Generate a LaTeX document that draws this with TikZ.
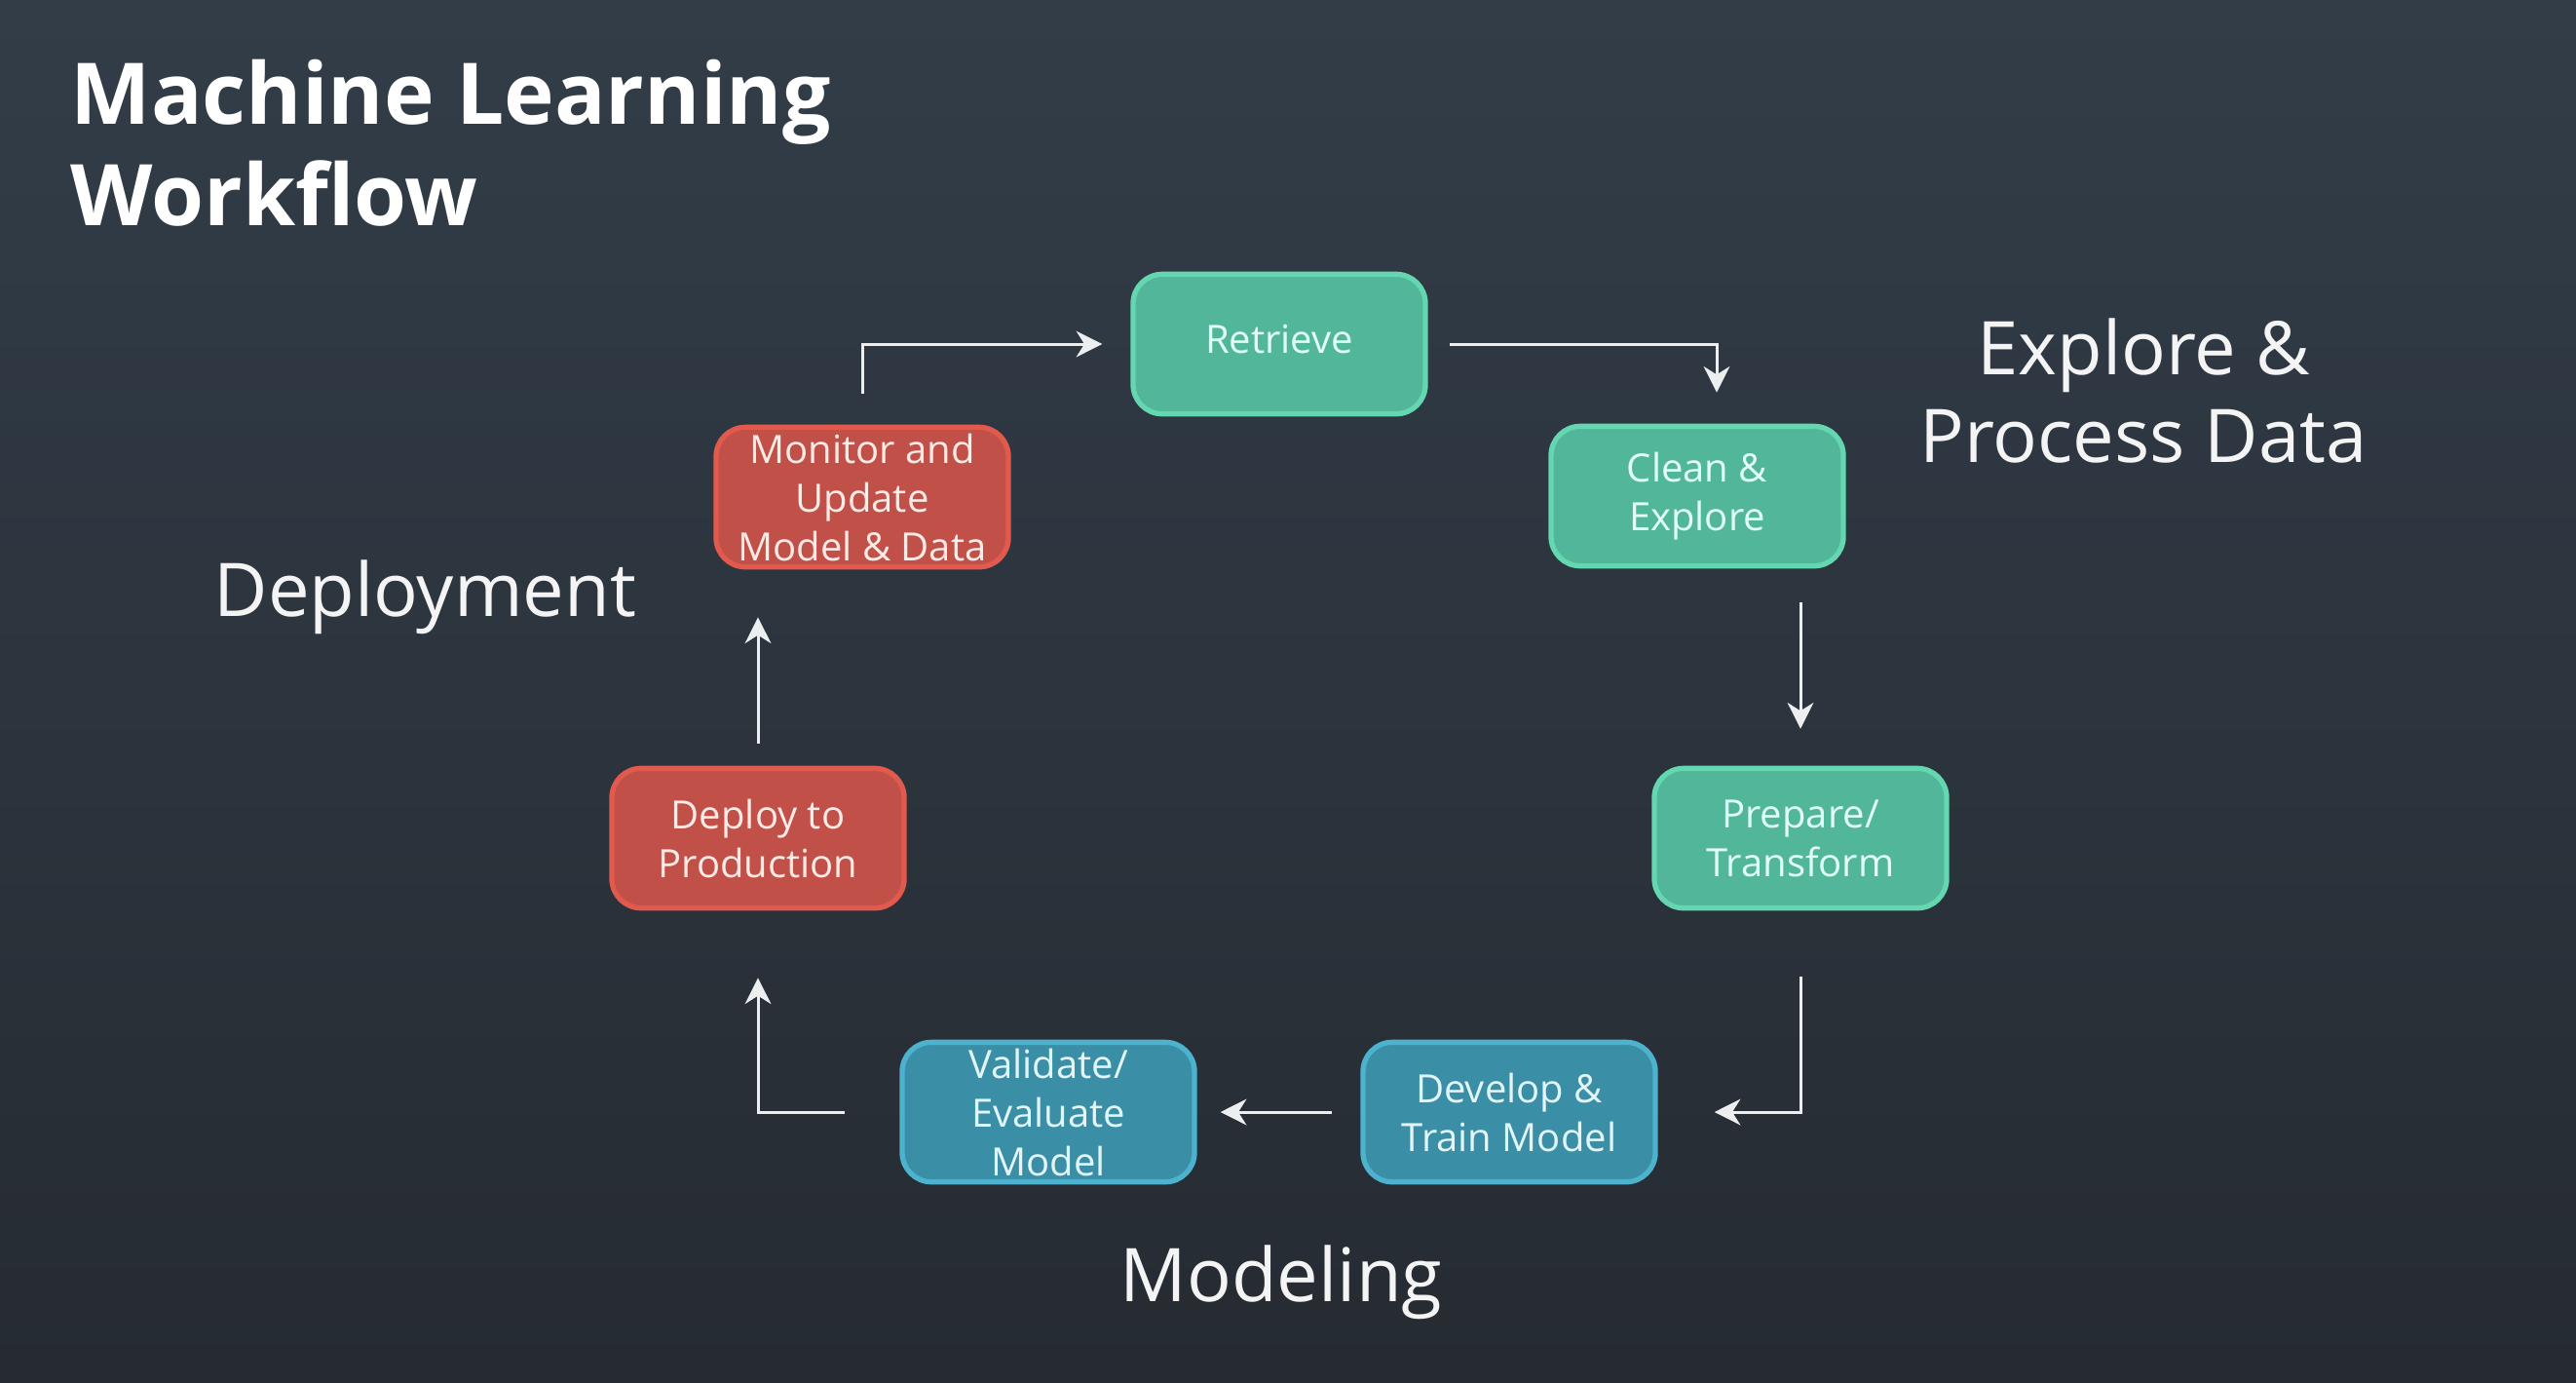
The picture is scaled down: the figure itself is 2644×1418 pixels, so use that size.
\documentclass[tikz,border=0pt]{standalone}
\usepackage{fontspec}
\setmainfont{Open Sans}
\usetikzlibrary{arrows.meta,calc}
\definecolor{bgtop}{RGB}{50,61,72}
\definecolor{bgbot}{RGB}{38,43,50}
\definecolor{gfill}{RGB}{82,182,155}
\definecolor{gline}{RGB}{100,214,176}
\definecolor{gtext}{RGB}{226,255,246}
\definecolor{rfill}{RGB}{192,80,72}
\definecolor{rline}{RGB}{226,90,78}
\definecolor{rtext}{RGB}{255,234,230}
\definecolor{bfill}{RGB}{58,143,166}
\definecolor{bline}{RGB}{76,178,206}
\definecolor{btext}{RGB}{226,246,250}
\definecolor{arrowc}{RGB}{236,238,240}
\definecolor{labc}{RGB}{244,244,244}
\tikzset{
  box/.style={rounded corners=9pt, line width=1.6pt, minimum width=90pt, minimum height=43pt,
    inner sep=0pt, align=center, font=\fontsize{12}{15}\selectfont},
  gbox/.style={box, fill=gfill, draw=gline, text=gtext},
  rbox/.style={box, fill=rfill, draw=rline, text=rtext},
  bbox/.style={box, fill=bfill, draw=bline, text=btext},
  arr/.style={draw=arrowc, line width=0.9pt, -{Stealth[length=8pt,width=8pt,inset=2.5pt]}},
  seclabel/.style={text=labc, inner sep=0pt, align=center, font=\fontsize{22.8}{27}\selectfont},
}
\begin{document}
\begin{tikzpicture}[x=0.3pt,y=-0.3pt]
\shade[top color=bgtop,bottom color=bgbot] (0,0) rectangle (2644,1418);
\useasboundingbox (0,0) rectangle (2644,1418);

\node[anchor=base west, inner sep=0pt, text=white, align=left,
  font=\fontsize{26.2}{31}\selectfont\bfseries] (title) at (72,231) {Machine Learning\\Workflow};

\node[gbox] (ret) at (1313,353) {\raisebox{3pt}{Retrieve}};
\node[gbox] (cle) at (1742,509) {Clean \&\\Explore};
\node[gbox] (prep) at (1848,860) {Prepare/\\Transform};
\node[bbox] (dev) at (1549,1141) {Develop \&\\Train Model};
\node[bbox] (val) at (1076,1141) {Validate/\\Evaluate\\Model};
\node[rbox] (dep) at (778,860) {Deploy to\\Production};
\node[rbox] (mon) at (885,510) {Monitor and\\Update\\Model \& Data};

\node[seclabel, anchor=base] (explore) at (2200,474) {Explore \&\\Process Data};
\node[seclabel, anchor=base west] (deploy) at (219,632) {Deployment};
\node[seclabel, anchor=base] (model) at (1315,1335) {Modeling};

\draw[arr] ($(mon.north)+(0,-32)$) |- ($(ret.west)+(-29,0)$);
\draw[arr] ($(ret.east)+(22,0)$) -| ($(cle.north)+(20,-32)$);
\draw[arr] ($(prep.north |- cle.south)+(0,35)$) -- ($(prep.north)+(0,-38)$);
\draw[arr] ($(prep.south)+(0,68)$) |- ($(dev.east)+(58,0)$);
\draw[arr] ($(dev.west)+(-29,0)$) -- ($(val.east)+(24,0)$);
\draw[arr] ($(val.west)+(-56,0)$) -| ($(dep.south)+(0,69)$);
\draw[arr] ($(dep.north)+(0,-23)$) -- ($(dep.north |- mon.south)+(0,49)$);
\end{tikzpicture}
\end{document}
